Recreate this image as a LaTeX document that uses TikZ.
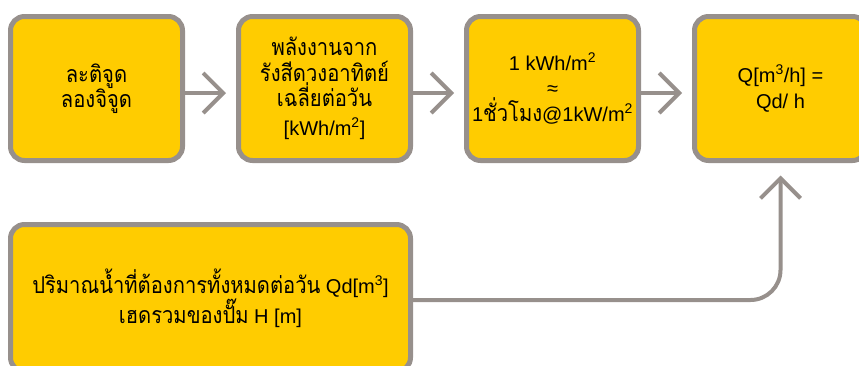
\documentclass[tikz,border=0pt]{standalone}
\usepackage{fontspec}
\setmainfont{Liberation Sans}
\newfontfamily\thaifont[Script=Thai,Scale=1.16,FakeStretch=0.87]{Loma}
\newcommand\tha[1]{{\thaifont #1}}
\usetikzlibrary{arrows.meta,positioning}
\definecolor{boxfill}{RGB}{255,204,0}
\definecolor{boxline}{RGB}{151,144,140}

\begin{document}
\begin{tikzpicture}[box/.style={draw=boxline,fill=boxfill,line width=5pt,rounded corners=14pt,
    minimum width=172pt,minimum height=144pt,outer sep=0pt,align=center,
    font=\fontsize{20}{25.5}\selectfont},
  longbox/.style={box,minimum width=400pt,minimum height=147pt},
  flow/.style={draw=boxline,line width=4pt,-{Straight Barb[length=20pt,width=40pt]}},
  node distance=56pt]
  \useasboundingbox (0,0) rectangle (859pt,-365pt);

  \node[box] (lat) at (96.5pt,-88.5pt) {\tha{ละติจูด}\\\tha{ลองจิจูด}};
  \node[box] (sun) [right=of lat] {\tha{พลังงานจาก}\\\tha{รังสีดวงอาทิตย์}\\\tha{เฉลี่ยต่อวัน}\\[3pt]{}[kWh/m\textsuperscript{2}]};
  \node[box] (psh) [right=of sun] {1 kWh/m\textsuperscript{2}\\≈\\1\tha{ชั่วโมง}@1kW/m\textsuperscript{2}};
  \node[box] (q)   [right=of psh] {Q[m\textsuperscript{3}/h] =\\Qd/ h};
  \node[longbox] (need) [below=64pt of lat.south west,anchor=north west]
    {\tha{ปริมาณน้ำที่ต้องการทั้งหมดต่อวัน} Qd[m\textsuperscript{3}]\\\tha{เฮดรวมของปั๊ม} H [m]};

  \draw[flow,shorten >=12.5pt] ([yshift=-4.5pt]lat.east) -- ([yshift=-4.5pt]sun.west);
  \draw[flow,shorten >=12.5pt] ([yshift=-4.5pt]sun.east) -- ([yshift=-4.5pt]psh.west);
  \draw[flow,shorten >=12.5pt] ([yshift=-4.5pt]psh.east) -- ([yshift=-4.5pt]q.west);
  \draw[flow,shorten >=15pt,rounded corners=30pt] ([yshift=-2pt]need.east) -| (q.south);
\end{tikzpicture}
\end{document}
